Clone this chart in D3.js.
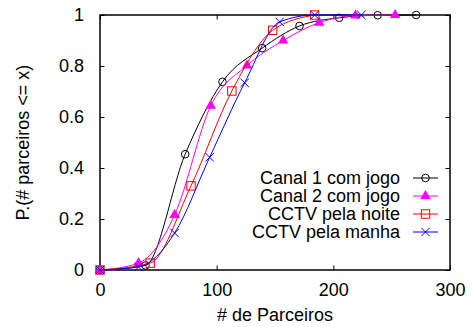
<!DOCTYPE html>
<html>
<head>
<meta charset="utf-8">
<script src="https://cdn.jsdelivr.net/npm/d3@7"></script>
<style>
  html, body { margin: 0; padding: 0; background: #fff; }
  svg { display: block; font-family: "Liberation Sans", Arial, sans-serif; }
</style>
</head>
<body>
<svg id="chart" width="475" height="327"></svg>
<script>
// Cumulative distribution of the number of partners, four viewing sessions
const seriesNames = ["Canal 1 com jogo", "Canal 2 com jogo", "CCTV pela noite", "CCTV pela manha"];
const seriesColors = ["#000000", "#ff00ff", "#ff0000", "#0000ff"];
const seriesMarkers = ["circle", "triangle", "square", "cross"];

const canal1X = [0, 39, 73, 105, 139, 171, 205, 238, 271];
const canal1Y = [0, 0.018, 0.454, 0.738, 0.870, 0.957, 0.989, 0.999, 1.0];

const canal2X = [0, 33, 64, 95, 126, 157, 188, 219, 253];
const canal2Y = [0, 0.027, 0.216, 0.644, 0.802, 0.900, 0.970, 0.998, 1.0];

const cctvNoiteX = [0, 43, 78, 113, 148, 184];
const cctvNoiteY = [0, 0.027, 0.330, 0.702, 0.940, 1.0];

const cctvManhaX = [0, 33, 64, 94, 124, 154, 184, 224];
const cctvManhaY = [0, 0.012, 0.145, 0.442, 0.734, 0.973, 1.0, 1.0];

const xTicks = [0, 100, 200, 300];
const yTicks = [0, 0.2, 0.4, 0.6, 0.8, 1];

const seriesX = [canal1X, canal2X, cctvNoiteX, cctvManhaX];
const seriesY = [canal1Y, canal2Y, cctvNoiteY, cctvManhaY];

const svg = d3.select("#chart");
const plotL = 100, plotR = 450, plotT = 15, plotB = 270;

const x = d3.scaleLinear().domain([0, 300]).range([plotL, plotR]);
const y = d3.scaleLinear().domain([0, 1]).range([plotB, plotT]);

const fontSize = 18;
const tickLen = 4.5;

// Axes with inward ticks, mirrored on the top and right edges
const gx = svg.append("g").attr("transform", `translate(0,${plotB})`)
  .call(d3.axisBottom(x).tickValues(xTicks).tickSize(-tickLen).tickPadding(13).tickFormat(d3.format("d")));
const gxt = svg.append("g").attr("transform", `translate(0,${plotT})`)
  .call(d3.axisTop(x).tickValues(xTicks).tickSize(-tickLen).tickFormat(""));
const gy = svg.append("g").attr("transform", `translate(${plotL},0)`)
  .call(d3.axisLeft(y).tickValues(yTicks).tickSize(-tickLen).tickPadding(16).tickFormat(d => d === 0 || d === 1 ? d3.format("d")(d) : d3.format(".1f")(d)));
const gyr = svg.append("g").attr("transform", `translate(${plotR},0)`)
  .call(d3.axisRight(y).tickValues(yTicks).tickSize(-tickLen).tickFormat(""));

[gx, gxt, gy, gyr].forEach(g => {
  g.select(".domain").remove();
  g.selectAll(".tick line").attr("stroke", "#000").attr("stroke-width", 1);
  g.selectAll("text").attr("fill", "#000").style("font-size", fontSize + "px")
    .style("font-family", "'Liberation Sans', Arial, sans-serif");
});

// Plot frame
svg.append("rect")
  .attr("x", plotL).attr("y", plotT)
  .attr("width", plotR - plotL).attr("height", plotB - plotT)
  .attr("fill", "none").attr("stroke", "#000").attr("stroke-width", 1.5);

// Axis titles
svg.append("text")
  .attr("x", (plotL + plotR) / 2).attr("y", 321)
  .attr("text-anchor", "middle").style("font-size", fontSize + "px")
  .text("# de Parceiros");
svg.append("text")
  .attr("transform", `translate(29,${(plotT + plotB) / 2}) rotate(-90)`)
  .attr("text-anchor", "middle").style("font-size", fontSize + "px")
  .text("P.(# parceiros <= x)");

function drawMarker(g, kind, cx, cy, color) {
  if (kind === "circle") {
    g.append("circle").attr("cx", cx).attr("cy", cy).attr("r", 3.8)
      .attr("fill", "none").attr("stroke", color).attr("stroke-width", 1);
  } else if (kind === "triangle") {
    g.append("path").attr("transform", `translate(${cx},${cy})`)
      .attr("d", d3.symbol().type(d3.symbolTriangle).size(48)()).attr("fill", color);
  } else if (kind === "square") {
    g.append("rect").attr("x", cx - 4.2).attr("y", cy - 4.2).attr("width", 8.4).attr("height", 8.4)
      .attr("fill", "none").attr("stroke", color).attr("stroke-width", 1);
  } else {
    const s = 4.2;
    g.append("path").attr("d", `M${cx - s},${cy - s}L${cx + s},${cy + s}M${cx - s},${cy + s}L${cx + s},${cy - s}`)
      .attr("stroke", color).attr("stroke-width", 1).attr("fill", "none");
  }
}

const line = d3.line().x(d => x(d[0])).y(d => y(d[1])).curve(d3.curveMonotoneX);

seriesNames.forEach((name, i) => {
  const pts = seriesX[i].map((v, j) => [v, seriesY[i][j]]);
  const g = svg.append("g");
  g.append("path").attr("d", line(pts)).attr("fill", "none")
    .attr("stroke", seriesColors[i]).attr("stroke-width", 1);
  pts.forEach(p => drawMarker(g, seriesMarkers[i], x(p[0]), y(p[1]), seriesColors[i]));
});

// Legend
const legendTextX = 400, legendLine0 = 413, legendLine1 = 438, legendY0 = 178, legendStep = 18;
seriesNames.forEach((name, i) => {
  const ly = legendY0 + i * legendStep;
  svg.append("text").attr("x", legendTextX).attr("y", ly).attr("dy", "0.35em")
    .attr("text-anchor", "end").style("font-size", fontSize + "px").text(name);
  const g = svg.append("g");
  g.append("line").attr("x1", legendLine0).attr("x2", legendLine1).attr("y1", ly).attr("y2", ly)
    .attr("stroke", seriesColors[i]).attr("stroke-width", 1);
  drawMarker(g, seriesMarkers[i], (legendLine0 + legendLine1) / 2, ly, seriesColors[i]);
});
</script>
</body>
</html>
